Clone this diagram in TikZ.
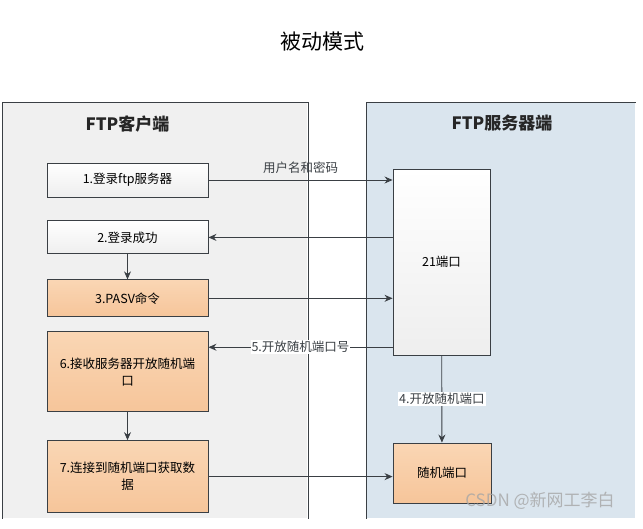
\documentclass[tikz,border=0pt]{standalone}
\usepackage{fontspec}
\setmainfont{Noto Sans CJK SC}
\usetikzlibrary{positioning, arrows.meta}

\definecolor{linegray}{HTML}{3A3F44}
\definecolor{clientbg}{HTML}{F0F0F0}
\definecolor{serverbg}{HTML}{DAE5EE}
\definecolor{stepgray}{HTML}{EEEEEE}
\definecolor{orangetop}{HTML}{FAD6B4}
\definecolor{orangebot}{HTML}{F6C59A}

\newcommand{\steptext}{\fontsize{12.5}{17}\selectfont}

\begin{document}
\begin{tikzpicture}[
    x=1pt, y=-1pt,
    >={Stealth[length=8pt,width=7pt]},
    node distance=23pt,
    line width=0.9pt,
    % Panels for the two sides
    panel/.style={rectangle, inner sep=0pt, anchor=north west, minimum height=416pt},
    paneltitle/.style={font=\fontsize{17}{20}\selectfont\bfseries, text=black!85},
    % Step boxes
    stepbox/.style={rectangle, draw=linegray, line width=0.9pt, minimum width=161pt, inner sep=2pt, align=center, font=\steptext, top color=white, bottom color=stepgray},
    hotbox/.style={stepbox, top color=orangetop, bottom color=orangebot},
    msg/.style={font=\steptext, inner sep=1pt}
]

  \fill[white] (0,0) rectangle (643,528);
  \useasboundingbox (0,0) rectangle (643,528);

  % --- TITLE ---
  \node[font=\fontsize{21}{24}\selectfont] (title) at (322,42) {被动模式};

  % --- PANELS ---
  \node[panel, fill=clientbg, minimum width=305pt] (client) at (2,102) {};
  \node[panel, fill=serverbg, minimum width=269pt] (server) at (366,102) {};
  \draw[linegray, line width=0.8pt] (client.south west) -- (client.north west) -- (client.north east) -- (client.south east);
  \draw[linegray, line width=0.8pt] (server.south west) -- (server.north west) -- (server.north east);

  % --- CLIENT SIDE ---
  \node[stepbox, minimum height=34pt] (login) at (127.5,180) {1.登录ftp服务器};
  \node[stepbox, minimum height=33pt, below=23pt of login] (success) {2.登录成功};
  \node[hotbox, minimum height=37pt, below=25pt of success] (pasv) {3.PASV命令};
  \node[hotbox, minimum height=80pt, below=14pt of pasv] (recv) {6.接收服务器开放随机端\\口};
  \node[hotbox, minimum height=72pt, below=28pt of recv] (fetch) {7.连接到随机端口获取数\\据};
  \node[paneltitle, above=27pt of login] (clienttitle) {FTP客户端};
  \coordinate (recvin) at ([yshift=-16pt]recv.north east);

  % --- SERVER SIDE ---
  \node[stepbox, minimum width=97pt, minimum height=186pt] (port21) at (441.5,262) {21端口};
  \node[hotbox, minimum width=98pt, minimum height=60pt] (randport) at (442,473) {随机端口};
  \node[paneltitle] (servertitle) at (502,123) {FTP服务器端};

  % --- MESSAGES ---
  \draw[->, linegray] (login.east) -- (login.east -| port21.west) node[msg, midway, above=5pt] {用户名和密码};
  \draw[->, linegray] (port21.west |- success.east) -- (success.east);
  \draw[->, linegray] (success) -- (pasv);
  \draw[->, linegray] (pasv.east) -- (pasv.east -| port21.west);
  \draw[->, linegray] (port21.west |- recvin) -- (recvin) node[msg, midway, fill=white] {5.开放随机端口号};
  \draw[->, linegray] (port21) -- (randport) node[msg, midway, fill=white] {4.开放随机端口};
  \draw[->, linegray] (recv) -- (fetch);
  \draw[->, linegray] (fetch.east) -- (fetch.east -| randport.west);

  % watermark
  \node[font=\fontsize{17}{20}\selectfont, text=gray!70, opacity=0.8] (mark) at (540,501) {CSDN @新网工李白};

\end{tikzpicture}
\end{document}
